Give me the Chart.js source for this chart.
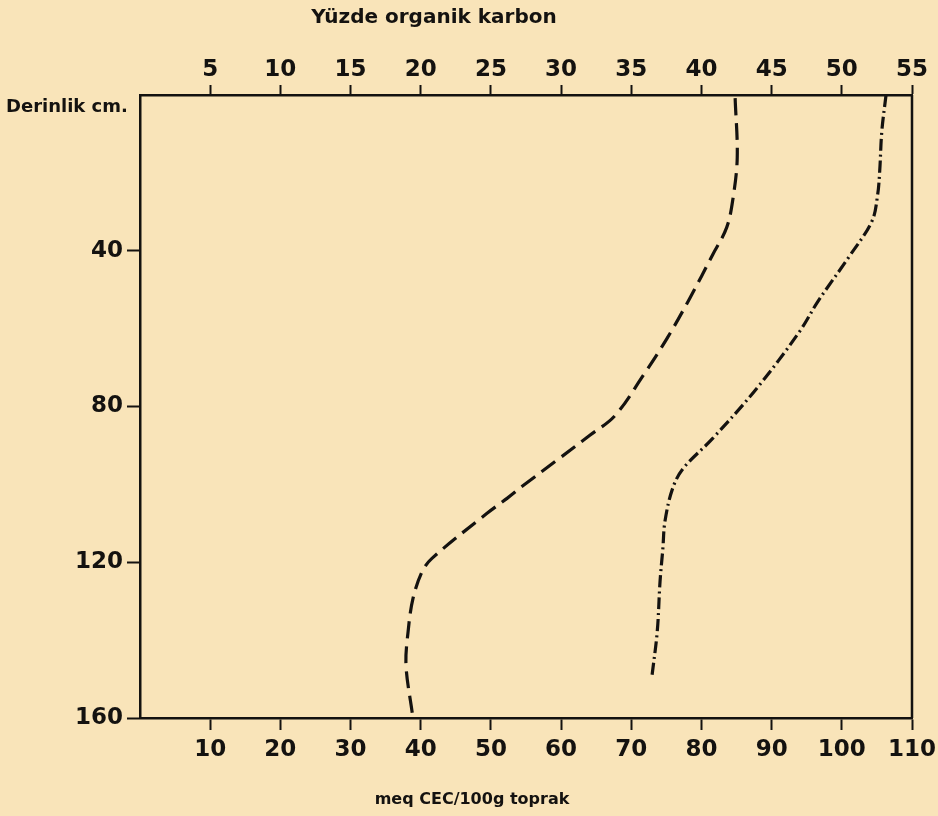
<!DOCTYPE html>
<html>
<head>
<meta charset="utf-8">
<script src="https://cdn.jsdelivr.net/npm/chart.js@4"></script>
<style>
  body { margin: 0; background: #f9e4b9; }
  canvas { display: block; }
</style>
</head>
<body>
<canvas id="soilChart" width="938" height="816"></canvas>
<script>
// depth (cm) and CEC (meq/100g)
const cecDashDepth = [0.8, 16, 26.5, 34, 41, 52, 62.5, 72, 82.3, 87.4, 93.8, 100.3, 103.6, 107.5, 119, 122.4, 129.3, 137.8, 146.5, 158.8];
const cecDashValue = [84.8, 85.1, 84.5, 83.6, 81.6, 78.4, 75.1, 71.7, 67.7, 64.1, 59.4, 54.6, 52.3, 49.4, 41.6, 40.2, 38.9, 38.2, 37.9, 38.8];

const cecDotDepth = [0, 9.3, 19.5, 25.7, 32.4, 41.1, 53, 60.7, 75.3, 88.2, 95.9, 101, 109.5, 116.5, 124.9, 137.8, 149.9];
const cecDotValue = [106.3, 105.7, 105.4, 105.1, 104.3, 101.2, 96.6, 94, 87.9, 81.6, 77.4, 75.9, 74.8, 74.5, 74.1, 73.7, 72.9];

const bottomTicks = [10, 20, 30, 40, 50, 60, 70, 80, 90, 100, 110];
const topTicks = [5, 10, 15, 20, 25, 30, 35, 40, 45, 50, 55];
const depthTicks = [40, 80, 120, 160];

const ink = '#141210';
const font = "'DejaVu Sans', sans-serif";

function toPoints(xs, ys) {
    return xs.map((x, i) => ({ x: x, y: ys[i] }));
}

// right edge of the box plus the three captions (placed like the original)
const framePlugin = {
    id: 'frame',
    afterDraw(chart) {
        const { ctx, chartArea } = chart;
        ctx.save();
        ctx.strokeStyle = ink;
        ctx.lineWidth = 2.5;
        ctx.beginPath();
        ctx.moveTo(chartArea.right, chartArea.top);
        ctx.lineTo(chartArea.right, chartArea.bottom);
        ctx.stroke();

        ctx.fillStyle = ink;
        ctx.textBaseline = 'middle';
        ctx.textAlign = 'left';
        ctx.font = "bold 18px " + font;
        ctx.fillText('Derinlik cm.', 6, chartArea.top + 12);
        ctx.textAlign = 'center';
        ctx.font = "bold 20px " + font;
        ctx.fillText('Yüzde organik karbon', 434, 18);
        ctx.font = "bold 16px " + font;
        ctx.fillText('meq CEC/100g toprak', 472, 800);
        ctx.restore();
    }
};

const axisGrid = {
    drawOnChartArea: false,
    drawTicks: true,
    tickLength: 12,
    tickWidth: 2,
    tickColor: ink
};

const tickFont = { family: font, size: 23, weight: 'bold' };

// keep the plot box fixed; labels may hang past its edges
function noSidePadding(scale) {
    scale.paddingLeft = 0;
    scale.paddingRight = 0;
}

new Chart(document.getElementById('soilChart').getContext('2d'), {
    type: 'scatter',
    data: {
        datasets: [
            {
                data: toPoints(cecDashValue, cecDashDepth),
                showLine: true,
                borderColor: ink,
                borderWidth: 3.2,
                borderDash: [17, 8],
                pointRadius: 0,
                tension: 0.35,
                xAxisID: 'x',
                yAxisID: 'y'
            },
            {
                data: toPoints(cecDotValue, cecDotDepth),
                showLine: true,
                borderColor: ink,
                borderWidth: 3.2,
                borderDash: [12, 4, 2, 4],
                pointRadius: 0,
                tension: 0.35,
                xAxisID: 'x',
                yAxisID: 'y'
            }
        ]
    },
    options: {
        responsive: false,
        animation: false,
        layout: { padding: { left: 0, right: 26, top: 0, bottom: 0 } },
        plugins: {
            legend: { display: false },
            tooltip: { enabled: false }
        },
        scales: {
            x: {
                type: 'linear',
                position: 'bottom',
                min: 0,
                max: 110,
                afterFit(scale) { scale.height = 98; noSidePadding(scale); },
                afterBuildTicks(scale) { scale.ticks = bottomTicks.map(v => ({ value: v })); },
                ticks: { color: ink, font: tickFont, padding: 6, maxRotation: 0, autoSkip: false },
                grid: axisGrid,
                border: { display: true, color: ink, width: 2.5 }
            },
            x2: {
                type: 'linear',
                position: 'top',
                min: 0,
                max: 55,
                afterFit(scale) { scale.height = 95; noSidePadding(scale); },
                afterBuildTicks(scale) { scale.ticks = topTicks.map(v => ({ value: v })); },
                ticks: { color: ink, font: tickFont, padding: 1, maxRotation: 0, autoSkip: false },
                grid: { ...axisGrid, tickLength: 10 },
                border: { display: true, color: ink, width: 2.5 }
            },
            y: {
                type: 'linear',
                position: 'left',
                reverse: true,
                min: 0,
                max: 160,
                afterFit(scale) { scale.width = 140; scale.paddingTop = 0; scale.paddingBottom = 0; },
                afterBuildTicks(scale) { scale.ticks = depthTicks.map(v => ({ value: v })); },
                ticks: { color: ink, font: tickFont, padding: 4, autoSkip: false },
                grid: { ...axisGrid, tickLength: 13 },
                border: { display: true, color: ink, width: 2.5 }
            }
        }
    },
    plugins: [framePlugin]
});
</script>
</body>
</html>
